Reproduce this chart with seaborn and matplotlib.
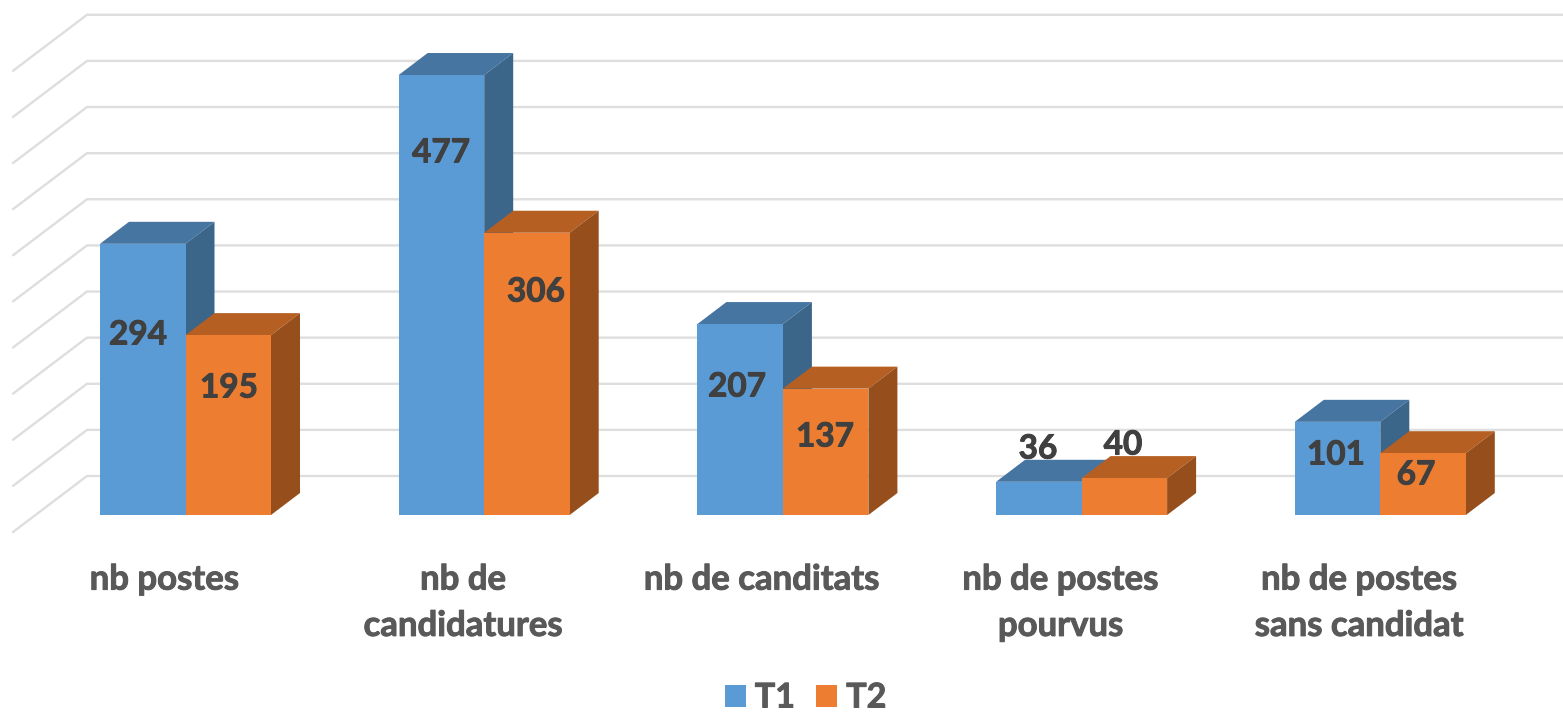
import pandas as pd
import matplotlib
matplotlib.use('Agg')
import matplotlib.pyplot as plt
import matplotlib.patheffects as pe
import matplotlib.transforms as mtrans
from matplotlib.patches import Polygon
import seaborn as sns

# Chart data
categories = ['nb postes', 'nb de\ncandidatures', 'nb de canditats',
              'nb de postes\npourvus', 'nb de postes\nsans candidat']
t1_values = [294, 477, 207, 36, 101]
t2_values = [195, 306, 137, 40, 67]
grid_ticks = [0, 50, 100, 150, 200, 250, 300, 350, 400, 450, 500]

# Centre of each value label in picture pixels (x from left, y from top)
t1_label_px = [(138, 335), (441, 153), (737, 387), (1038, 449), (1336, 455)]
t2_label_px = [(229, 388), (536, 292), (825, 437), (1123, 445), (1416, 475)]

W, H = 1563, 712
BASE_Y = 515       # pixel row of value 0
PX_PER_VAL = 0.9224
PX_PER_CAT = 298.7
FIRST_CAT_X = 185.5
DEPTH_X, DEPTH_Y = 29, 22        # 3d offset of the bars
WALL_Y = 39                      # back wall floor is this far above the baseline
WALL_LEFT, FLOOR_LEFT = 87, 13   # x of the grid corner and of the front end

sns.set_theme(style='white')
plt.rcParams['font.family'] = ['Lato', 'DejaVu Sans']

df = pd.DataFrame({
    'categorie': categories * 2,
    'valeur': t1_values + t2_values,
    'tour': ['T1'] * len(categories) + ['T2'] * len(categories),
})

colors = {'T1': '#5B9BD5', 'T2': '#ED7D31'}
top_colors = {'T1': '#4775A1', 'T2': '#B65F22'}
side_colors = {'T1': '#3B6589', 'T2': '#964F1C'}

fig = plt.figure(figsize=(W / 100, H / 100), dpi=100)
ax = fig.add_axes([0, (H - BASE_Y) / H, 1, BASE_Y / H])

sns.barplot(data=df, x='categorie', y='valeur', hue='tour', palette=colors,
            width=0.5725, gap=0, saturation=1, linewidth=0, ax=ax)

ax.set_xlim(-FIRST_CAT_X / PX_PER_CAT, (W - FIRST_CAT_X) / PX_PER_CAT)
ax.set_ylim(0, BASE_Y / PX_PER_VAL)
ax.set_xlabel('')
ax.set_ylabel('')
ax.set_yticks([])
sns.despine(ax=ax, left=True, bottom=True)
ax.patch.set_alpha(0)

# pixel helpers so the 3d part stays in data units
x_of = lambda px: (px - FIRST_CAT_X) / PX_PER_CAT
y_of = lambda py: (BASE_Y - py) / PX_PER_VAL
dx = DEPTH_X / PX_PER_CAT
dy = DEPTH_Y / PX_PER_VAL

# Grid lines on the back wall and the left side
for v in grid_ticks:
    wall = v + WALL_Y / PX_PER_VAL
    front = wall - 56 / PX_PER_VAL
    ax.plot([x_of(FLOOR_LEFT), x_of(WALL_LEFT), x_of(W)], [front, wall, wall],
            color='#DEDEDE', lw=1.7, zorder=1, clip_on=False,
            solid_joinstyle='miter')

# Top and side faces built from the bars seaborn drew
for k, tour in enumerate(['T1', 'T2']):
    z = 2 + 2 * k
    for bar in ax.containers[k]:
        x0, w, h = bar.get_x(), bar.get_width(), bar.get_height()
        bar.set_zorder(z + 1)
        ax.add_patch(Polygon([(x0, h), (x0 + dx, h + dy), (x0 + w + dx, h + dy), (x0 + w, h)],
                             closed=True, fc=top_colors[tour], ec='none', zorder=z))
        ax.add_patch(Polygon([(x0 + w, 0), (x0 + w + dx, dy), (x0 + w + dx, h + dy), (x0 + w, h)],
                             closed=True, fc=side_colors[tour], ec='none', zorder=z,
                             clip_on=False))

# thin outline, Lato bold is lighter than the font of the reference
def thicken(txt, color):
    txt.set_path_effects([pe.withStroke(linewidth=0.7, foreground=color)])

# Value labels
for vals, pos in [(t1_values, t1_label_px), (t2_values, t2_label_px)]:
    for val, (px, py) in zip(vals, pos):
        t = ax.text(x_of(px), y_of(py), str(val), ha='center', va='center', fontsize=24,
                    fontweight='bold', color='#404040', zorder=8)
        thicken(t, '#404040')

# Category labels are shifted a little left of the groups
ax.tick_params(axis='x', length=0, pad=35)
shift = mtrans.ScaledTranslation(-21 / 100, 0, fig.dpi_scale_trans)
for lab in ax.get_xticklabels():
    lab.set_fontsize(25)
    lab.set_fontweight('bold')
    lab.set_color('#595959')
    lab.set_linespacing(1.55)
    lab.set_transform(lab.get_transform() + shift)
    thicken(lab, '#595959')

sns.move_legend(ax, 'center', bbox_to_anchor=(805.5 / W, 1 - 697.5 / H),
                bbox_transform=fig.transFigure, ncol=2, frameon=False, title=None,
                fontsize=24.5, handlelength=0.617, handleheight=0.617,
                handletextpad=0.27, columnspacing=0.62, borderpad=0, borderaxespad=0)
for txt in ax.get_legend().get_texts():
    txt.set_fontweight('bold')
    txt.set_color('#595959')
    thicken(txt, '#595959')

fig.savefig('out.png', dpi=100)
plt.close()
